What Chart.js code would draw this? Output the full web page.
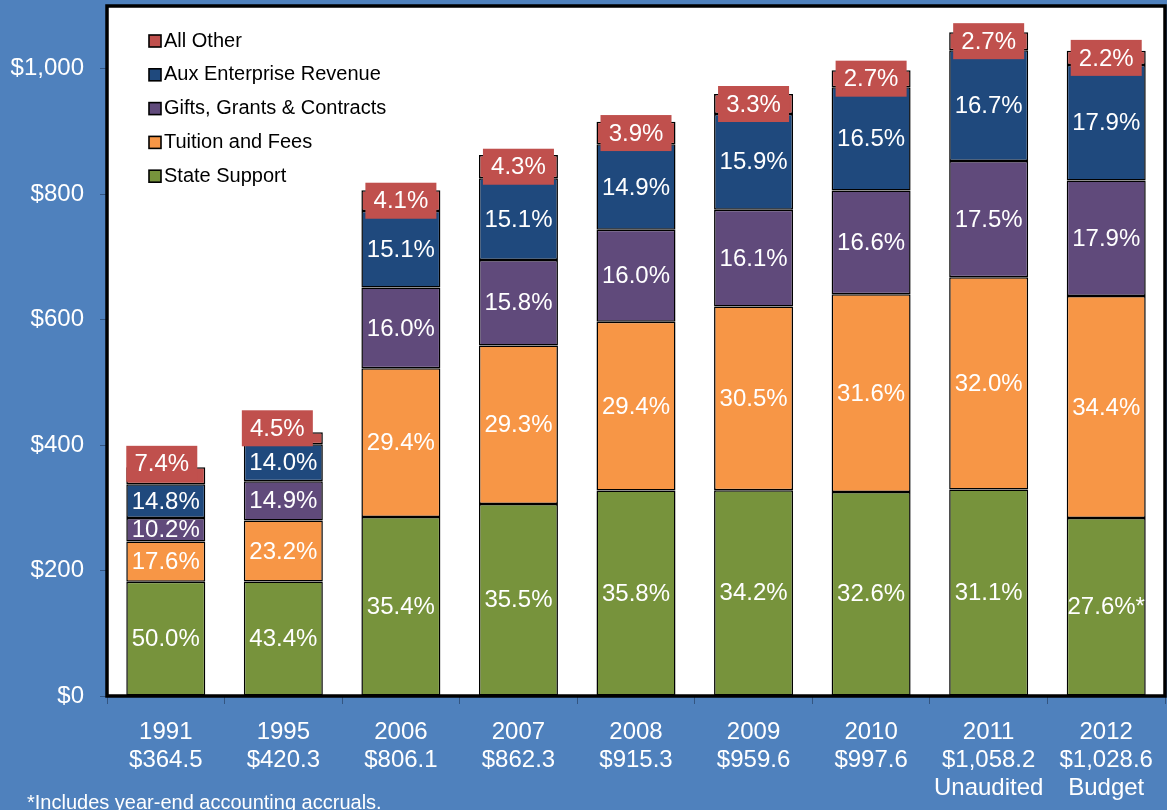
<!DOCTYPE html>
<html><head><meta charset="utf-8">
<script src="https://cdn.jsdelivr.net/npm/chart.js@4.4.0/dist/chart.umd.min.js"></script>
<style>
html,body{margin:0;padding:0;background:#4F81BD;overflow:hidden}
#wrap{width:1167px;height:810px;position:relative}
</style>
</head><body>
<div id="wrap"><canvas id="c" width="1167" height="810"></canvas></div>
<script>
const years = ['1991','1995','2006','2007','2008','2009','2010','2011','2012'];
const totals = [364.5,420.3,806.1,862.3,915.3,959.6,997.6,1058.2,1028.6];
const yearNotes = ['','','','','','','','Unaudited','Budget'];
const statePct = [50.0,43.4,35.4,35.5,35.8,34.2,32.6,31.1,27.6];
const tuitionPct = [17.6,23.2,29.4,29.3,29.4,30.5,31.6,32.0,34.4];
const giftsPct = [10.2,14.9,16.0,15.8,16.0,16.1,16.6,17.5,17.9];
const auxPct = [14.8,14.0,15.1,15.1,14.9,15.9,16.5,16.7,17.9];
const otherPct = [7.4,4.5,4.1,4.3,3.9,3.3,2.7,2.7,2.2];
const stateNotes = ['','','','','','','','','*'];
const seriesNames = ['State Support','Tuition and Fees','Gifts, Grants & Contracts','Aux Enterprise Revenue','All Other'];
const yTickValues = [0,200,400,600,800,1000];
const footnote = '*Includes year-end accounting accruals.';

const FONT = '"Liberation Sans", Arial, Helvetica, sans-serif';
const colors = ['#77933C','#F79646','#604A7B','#1F497D','#C0504D'];
const pctSets = [statePct, tuitionPct, giftsPct, auxPct, otherPct];
// label box nudges for the top ("All Other") labels: [dx, dy]
const boxNudge = [[-4,-12],[-6,-10],[0,0],[0,0],[0,0],[0,0],[0,0],[0,0],[0,0]];

const fmtMoney = v => '$' + v.toLocaleString('en-US',{minimumFractionDigits:1, maximumFractionDigits:1});
const xLabels = years.map((y,i) => yearNotes[i] ? [y, fmtMoney(totals[i]), yearNotes[i]] : [y, fmtMoney(totals[i])]);

const datasets = pctSets.map((p, k) => ({
  label: seriesNames[k],
  data: p.map((v,i) => totals[i]*v/100),
  pct: p,
  notes: k === 0 ? stateNotes : null,
  boxed: k === 4,
  backgroundColor: colors[k],
  borderColor: '#000',
  borderWidth: 1.5,
  borderSkipped: false,
  barPercentage: 0.672,
  categoryPercentage: 1.0
}));

const bgPlugin = {
  id: 'bg',
  beforeDraw(chart){
    const {ctx, chartArea:a} = chart;
    ctx.save();
    ctx.fillStyle = '#4F81BD';
    ctx.fillRect(0,0,chart.width,chart.height);
    ctx.fillStyle = '#FFFFFF';
    ctx.fillRect(a.left, a.top, a.right-a.left, a.bottom-a.top);
    ctx.restore();
  }
};

const overlayPlugin = {
  id: 'overlay',
  afterDatasetsDraw(chart){
    const {ctx, chartArea:a} = chart;
    ctx.save();
    ctx.font = '24px ' + FONT;
    ctx.textAlign = 'center';
    ctx.textBaseline = 'middle';
    chart.data.datasets.forEach((ds, di) => {
      const meta = chart.getDatasetMeta(di);
      meta.data.forEach((el, i) => {
        const p = el.getProps(['x','y','base'], true);
        let cx = p.x, cy = (p.y + p.base)/2;
        const text = ds.pct[i].toFixed(1) + '%' + (ds.notes ? ds.notes[i] : '');
        if (ds.boxed) {
          cx += boxNudge[i][0]; cy += boxNudge[i][1];
          ctx.fillStyle = '#C0504D';
          ctx.fillRect(cx - 35.5, cy - 18, 71, 36);
        }
        ctx.fillStyle = '#FFFFFF';
        ctx.fillText(text, cx, cy + 1);
      });
    });
    ctx.strokeStyle = '#000';
    ctx.lineWidth = 3.5;
    ctx.strokeRect(a.left, a.top, a.right-a.left, a.bottom-a.top);
    ctx.font = '20px ' + FONT;
    ctx.textAlign = 'left';
    ctx.textBaseline = 'middle';
    const rows = [4,3,2,1,0];
    rows.forEach((k, r) => {
      const cy = 41 + r*33.8;
      ctx.fillStyle = colors[k];
      ctx.fillRect(149, cy-6, 12, 12);
      ctx.strokeStyle = '#000';
      ctx.lineWidth = 1.6;
      ctx.strokeRect(149, cy-6, 12, 12);
      ctx.fillStyle = '#000';
      ctx.fillText(seriesNames[k], 164, cy);
    });
    ctx.fillStyle = '#FFFFFF';
    ctx.font = '20px ' + FONT;
    ctx.textBaseline = 'alphabetic';
    ctx.fillText(footnote, 27, 808.5);
    ctx.restore();
  }
};

new Chart(document.getElementById('c'), {
  type: 'bar',
  data: { labels: xLabels, datasets },
  options: {
    responsive: false,
    animation: false,
    devicePixelRatio: 1,
    layout: { padding: { top: 6, right: 2, left: 0, bottom: 0 } },
    plugins: { legend: { display: false }, tooltip: { enabled: false } },
    scales: {
      x: {
        stacked: true,
        offset: true,
        grid: { display: true, drawOnChartArea: false, drawTicks: true, tickLength: 8, color: 'rgba(30,50,80,0.55)', offset: true },
        border: { display: false },
        ticks: { color: '#FFFFFF', font: { family: FONT, size: 24, lineHeight: 1.18 }, padding: 14, maxRotation: 0, autoSkip: false },
        afterFit(s){ s.height = 114; s.paddingLeft = 0; s.paddingRight = 0; }
      },
      y: {
        stacked: true,
        min: 0, max: 1100,
        afterBuildTicks(s){ s.ticks = yTickValues.map(v => ({value: v})); },
        grid: { display: true, drawOnChartArea: false, drawTicks: true, tickLength: 7, color: 'rgba(30,50,80,0.55)' },
        border: { display: false },
        ticks: { color: '#FFFFFF', font: { family: FONT, size: 24 }, padding: 16,
          callback: v => '$' + Number(v).toLocaleString('en-US') },
        afterFit(s){ s.width = 107; s.paddingTop = 0; s.paddingBottom = 0; }
      }
    }
  },
  plugins: [bgPlugin, overlayPlugin]
});
</script>
</body></html>
